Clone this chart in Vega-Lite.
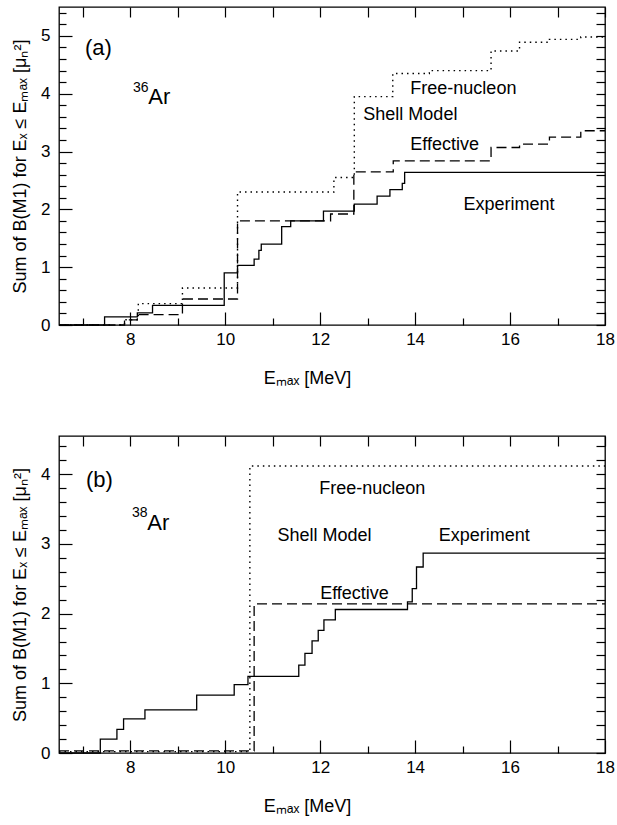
{
  "$schema": "https://vega.github.io/schema/vega-lite/v6.json",
  "padding": {"left": 10, "top": 5, "right": 5, "bottom": 5},
  "config": {
    "font": "Liberation Sans",
    "axis": {"labelFont": "Liberation Sans", "labelFontSize": 17, "labelColor": "black", "titleFont": "Liberation Sans", "titleFontSize": 18, "titleFontWeight": "normal", "titleColor": "black", "grid": false, "tickColor": "black", "tickWidth": 1.2, "domain": false, "labelFlush": false, "labelOverlap": false},
    "view": {"stroke": "black", "strokeWidth": 1.3},
    "text": {"font": "Liberation Sans", "color": "black"}
  },
  "datasets": {
    "steps": [
      {"panel": "a", "series": "Experiment", "E": 6.5, "B": 0},
      {"panel": "a", "series": "Experiment", "E": 7.46, "B": 0.14},
      {"panel": "a", "series": "Experiment", "E": 8.15, "B": 0.21},
      {"panel": "a", "series": "Experiment", "E": 8.47, "B": 0.34},
      {"panel": "a", "series": "Experiment", "E": 9.98, "B": 0.9},
      {"panel": "a", "series": "Experiment", "E": 10.26, "B": 1.03},
      {"panel": "a", "series": "Experiment", "E": 10.61, "B": 1.14},
      {"panel": "a", "series": "Experiment", "E": 10.71, "B": 1.29},
      {"panel": "a", "series": "Experiment", "E": 10.76, "B": 1.4},
      {"panel": "a", "series": "Experiment", "E": 11.19, "B": 1.7},
      {"panel": "a", "series": "Experiment", "E": 11.38, "B": 1.8},
      {"panel": "a", "series": "Experiment", "E": 12.07, "B": 1.97},
      {"panel": "a", "series": "Experiment", "E": 12.72, "B": 2.09},
      {"panel": "a", "series": "Experiment", "E": 13.2, "B": 2.23},
      {"panel": "a", "series": "Experiment", "E": 13.47, "B": 2.34},
      {"panel": "a", "series": "Experiment", "E": 13.73, "B": 2.45},
      {"panel": "a", "series": "Experiment", "E": 13.78, "B": 2.64},
      {"panel": "a", "series": "Experiment", "E": 18, "B": 2.64},
      {"panel": "a", "series": "Effective", "E": 6.5, "B": 0},
      {"panel": "a", "series": "Effective", "E": 7.88, "B": 0.09},
      {"panel": "a", "series": "Effective", "E": 8.15, "B": 0.18},
      {"panel": "a", "series": "Effective", "E": 9.1, "B": 0.45},
      {"panel": "a", "series": "Effective", "E": 10.26, "B": 1.8},
      {"panel": "a", "series": "Effective", "E": 12.22, "B": 1.92},
      {"panel": "a", "series": "Effective", "E": 12.71, "B": 2.65},
      {"panel": "a", "series": "Effective", "E": 13.54, "B": 2.84},
      {"panel": "a", "series": "Effective", "E": 15.6, "B": 3.07},
      {"panel": "a", "series": "Effective", "E": 16.2, "B": 3.13},
      {"panel": "a", "series": "Effective", "E": 16.83, "B": 3.25},
      {"panel": "a", "series": "Effective", "E": 17.49, "B": 3.36},
      {"panel": "a", "series": "Effective", "E": 18, "B": 3.36},
      {"panel": "a", "series": "Free-nucleon", "E": 6.5, "B": 0},
      {"panel": "a", "series": "Free-nucleon", "E": 7.88, "B": 0.09},
      {"panel": "a", "series": "Free-nucleon", "E": 8.17, "B": 0.37},
      {"panel": "a", "series": "Free-nucleon", "E": 9.1, "B": 0.64},
      {"panel": "a", "series": "Free-nucleon", "E": 10.26, "B": 2.3},
      {"panel": "a", "series": "Free-nucleon", "E": 12.29, "B": 2.55},
      {"panel": "a", "series": "Free-nucleon", "E": 12.72, "B": 3.95},
      {"panel": "a", "series": "Free-nucleon", "E": 13.53, "B": 4.35},
      {"panel": "a", "series": "Free-nucleon", "E": 14.3, "B": 4.4},
      {"panel": "a", "series": "Free-nucleon", "E": 15.6, "B": 4.74},
      {"panel": "a", "series": "Free-nucleon", "E": 16.2, "B": 4.89},
      {"panel": "a", "series": "Free-nucleon", "E": 16.83, "B": 4.94},
      {"panel": "a", "series": "Free-nucleon", "E": 17.49, "B": 4.98},
      {"panel": "a", "series": "Free-nucleon", "E": 18, "B": 4.98},
      {"panel": "b", "series": "Experiment", "E": 6.5, "B": 0},
      {"panel": "b", "series": "Experiment", "E": 7.37, "B": 0.2},
      {"panel": "b", "series": "Experiment", "E": 7.72, "B": 0.34},
      {"panel": "b", "series": "Experiment", "E": 7.86, "B": 0.49},
      {"panel": "b", "series": "Experiment", "E": 8.31, "B": 0.62},
      {"panel": "b", "series": "Experiment", "E": 9.4, "B": 0.83},
      {"panel": "b", "series": "Experiment", "E": 10.19, "B": 0.98},
      {"panel": "b", "series": "Experiment", "E": 10.48, "B": 1.1},
      {"panel": "b", "series": "Experiment", "E": 11.55, "B": 1.26},
      {"panel": "b", "series": "Experiment", "E": 11.68, "B": 1.43},
      {"panel": "b", "series": "Experiment", "E": 11.83, "B": 1.61},
      {"panel": "b", "series": "Experiment", "E": 11.96, "B": 1.76},
      {"panel": "b", "series": "Experiment", "E": 12.08, "B": 1.91},
      {"panel": "b", "series": "Experiment", "E": 12.32, "B": 2.06},
      {"panel": "b", "series": "Experiment", "E": 13.84, "B": 2.17},
      {"panel": "b", "series": "Experiment", "E": 13.94, "B": 2.36},
      {"panel": "b", "series": "Experiment", "E": 14.03, "B": 2.67},
      {"panel": "b", "series": "Experiment", "E": 14.17, "B": 2.87},
      {"panel": "b", "series": "Experiment", "E": 18, "B": 2.87},
      {"panel": "b", "series": "Effective", "E": 6.5, "B": 0.03},
      {"panel": "b", "series": "Effective", "E": 10.61, "B": 2.14},
      {"panel": "b", "series": "Effective", "E": 18, "B": 2.14},
      {"panel": "b", "series": "Free-nucleon", "E": 6.5, "B": 0.02},
      {"panel": "b", "series": "Free-nucleon", "E": 10.52, "B": 4.12},
      {"panel": "b", "series": "Free-nucleon", "E": 18, "B": 4.12}
    ]
  },
  "spacing": 46,
  "vconcat": [
    {
      "width": 546,
      "height": 318,
      "resolve": {"scale": {"x": "independent", "y": "independent"}, "axis": {"x": "independent", "y": "independent"}},
      "layer": [
        {
          "data": {"name": "steps"},
          "transform": [{"filter": "datum.panel === 'a' && datum.series === 'Experiment'"}],
          "mark": {"type": "line", "interpolate": "step-after", "color": "black", "strokeWidth": 1.3},
          "encoding": {
            "x": {"field": "E", "type": "quantitative", "scale": {"domain": [6.5, 18], "nice": false, "zero": false}, "axis": {"orient": "bottom", "values": [8, 10, 12, 14, 16, 18], "ticks": true, "tickSize": 13, "offset": -13, "labelPadding": 6, "title": "Eₘₐₓ  [MeV]", "titlePadding": 22, "titleX": 248, "titleAlign": "center"}},
            "y": {"field": "B", "type": "quantitative", "scale": {"domain": [0, 5.5], "nice": false, "zero": false}, "axis": {"orient": "left", "values": [0, 1, 2, 3, 4, 5], "ticks": true, "tickSize": 13, "offset": -13, "labelPadding": 9, "title": "Sum of B(M1) for Eₓ ≤ Eₘₐₓ  [μₙ²]", "titlePadding": 11}}
          }
        },
        {
          "data": {"name": "steps"},
          "transform": [{"filter": "datum.panel === 'a' && datum.series === 'Effective'"}],
          "mark": {"type": "line", "interpolate": "step-after", "color": "black", "strokeWidth": 1.3, "strokeDash": [10, 5]},
          "encoding": {
            "x": {"field": "E", "type": "quantitative", "scale": {"domain": [6.5, 18], "nice": false, "zero": false}, "axis": {"orient": "top", "values": [7, 8, 9, 10, 11, 12, 13, 14, 15, 16, 17, 18], "labels": false, "tickSize": 10, "offset": -10, "title": null}},
            "y": {"field": "B", "type": "quantitative", "scale": {"domain": [0, 5.5], "nice": false, "zero": false}, "axis": {"orient": "right", "values": [0, 0.2, 0.4, 0.6, 0.8, 1, 1.2, 1.4, 1.6, 1.8, 2, 2.2, 2.4, 2.6, 2.8, 3, 3.2, 3.4, 3.6, 3.8, 4, 4.2, 4.4, 4.6, 4.8, 5, 5.2, 5.4], "labels": false, "tickSize": 9, "offset": -9, "title": null}}
          }
        },
        {
          "data": {"name": "steps"},
          "transform": [{"filter": "datum.panel === 'a' && datum.series === 'Free-nucleon'"}],
          "mark": {"type": "line", "interpolate": "step-after", "color": "black", "strokeWidth": 1.4, "strokeDash": [1.5, 4]},
          "encoding": {
            "x": {"field": "E", "type": "quantitative", "scale": {"domain": [6.5, 18], "nice": false, "zero": false}, "axis": {"orient": "bottom", "values": [7, 9, 11, 13, 15, 17], "labels": false, "tickSize": 7, "offset": -7, "title": null}},
            "y": {"field": "B", "type": "quantitative", "scale": {"domain": [0, 5.5], "nice": false, "zero": false}, "axis": {"orient": "left", "values": [0.2, 0.4, 0.6, 0.8, 1.2, 1.4, 1.6, 1.8, 2.2, 2.4, 2.6, 2.8, 3.2, 3.4, 3.6, 3.8, 4.2, 4.4, 4.6, 4.8, 5.2, 5.4], "labels": false, "tickSize": 7, "offset": -7, "title": null}}
          }
        },
        {
          "data": {"values": [{}]},
          "mark": {"type": "text", "align": "left", "baseline": "middle", "fontSize": 18, "text": "Free-nucleon"},
          "encoding": {"x": {"datum": 13.9, "type": "quantitative", "scale": {"domain": [6.5, 18], "nice": false, "zero": false}, "axis": null}, "y": {"datum": 4.08, "type": "quantitative", "scale": {"domain": [0, 5.5], "nice": false, "zero": false}, "axis": null}}
        },
        {
          "data": {"values": [{}]},
          "mark": {"type": "text", "align": "left", "baseline": "middle", "fontSize": 18, "text": "Shell Model"},
          "encoding": {"x": {"datum": 12.91, "type": "quantitative", "scale": {"domain": [6.5, 18], "nice": false, "zero": false}, "axis": null}, "y": {"datum": 3.64, "type": "quantitative", "scale": {"domain": [0, 5.5], "nice": false, "zero": false}, "axis": null}}
        },
        {
          "data": {"values": [{}]},
          "mark": {"type": "text", "align": "left", "baseline": "middle", "fontSize": 18, "text": "Effective"},
          "encoding": {"x": {"datum": 13.9, "type": "quantitative", "scale": {"domain": [6.5, 18], "nice": false, "zero": false}, "axis": null}, "y": {"datum": 3.12, "type": "quantitative", "scale": {"domain": [0, 5.5], "nice": false, "zero": false}, "axis": null}}
        },
        {
          "data": {"values": [{}]},
          "mark": {"type": "text", "align": "left", "baseline": "middle", "fontSize": 18, "text": "Experiment"},
          "encoding": {"x": {"datum": 15.02, "type": "quantitative", "scale": {"domain": [6.5, 18], "nice": false, "zero": false}, "axis": null}, "y": {"datum": 2.07, "type": "quantitative", "scale": {"domain": [0, 5.5], "nice": false, "zero": false}, "axis": null}}
        },
        {
          "data": {"values": [{}]},
          "mark": {"type": "text", "align": "center", "baseline": "middle", "fontSize": 22, "text": "(a)"},
          "encoding": {"x": {"datum": 7.33, "type": "quantitative", "scale": {"domain": [6.5, 18], "nice": false, "zero": false}, "axis": null}, "y": {"datum": 4.79, "type": "quantitative", "scale": {"domain": [0, 5.5], "nice": false, "zero": false}, "axis": null}}
        },
        {
          "data": {"values": [{}]},
          "mark": {"type": "text", "align": "center", "baseline": "middle", "fontSize": 14, "text": "36"},
          "encoding": {"x": {"datum": 8.22, "type": "quantitative", "scale": {"domain": [6.5, 18], "nice": false, "zero": false}, "axis": null}, "y": {"datum": 4.1, "type": "quantitative", "scale": {"domain": [0, 5.5], "nice": false, "zero": false}, "axis": null}}
        },
        {
          "data": {"values": [{}]},
          "mark": {"type": "text", "align": "left", "baseline": "middle", "fontSize": 22, "text": "Ar"},
          "encoding": {"x": {"datum": 8.38, "type": "quantitative", "scale": {"domain": [6.5, 18], "nice": false, "zero": false}, "axis": null}, "y": {"datum": 3.94, "type": "quantitative", "scale": {"domain": [0, 5.5], "nice": false, "zero": false}, "axis": null}}
        }
      ]
    },
    {
      "width": 546,
      "height": 317,
      "resolve": {"scale": {"x": "independent", "y": "independent"}, "axis": {"x": "independent", "y": "independent"}},
      "layer": [
        {
          "data": {"name": "steps"},
          "transform": [{"filter": "datum.panel === 'b' && datum.series === 'Experiment'"}],
          "mark": {"type": "line", "interpolate": "step-after", "color": "black", "strokeWidth": 1.3},
          "encoding": {
            "x": {"field": "E", "type": "quantitative", "scale": {"domain": [6.5, 18], "nice": false, "zero": false}, "axis": {"orient": "bottom", "values": [8, 10, 12, 14, 16, 18], "ticks": true, "tickSize": 13, "offset": -13, "labelPadding": 6, "title": "Eₘₐₓ  [MeV]", "titlePadding": 22, "titleX": 248, "titleAlign": "center"}},
            "y": {"field": "B", "type": "quantitative", "scale": {"domain": [0, 4.55], "nice": false, "zero": false}, "axis": {"orient": "left", "values": [0, 1, 2, 3, 4], "ticks": true, "tickSize": 13, "offset": -13, "labelPadding": 9, "title": "Sum of B(M1) for Eₓ ≤ Eₘₐₓ  [μₙ²]", "titlePadding": 11}}
          }
        },
        {
          "data": {"name": "steps"},
          "transform": [{"filter": "datum.panel === 'b' && datum.series === 'Effective'"}],
          "mark": {"type": "line", "interpolate": "step-after", "color": "black", "strokeWidth": 1.3, "strokeDash": [10, 5]},
          "encoding": {
            "x": {"field": "E", "type": "quantitative", "scale": {"domain": [6.5, 18], "nice": false, "zero": false}, "axis": {"orient": "top", "values": [7, 8, 9, 10, 11, 12, 13, 14, 15, 16, 17, 18], "labels": false, "tickSize": 10, "offset": -10, "title": null}},
            "y": {"field": "B", "type": "quantitative", "scale": {"domain": [0, 4.55], "nice": false, "zero": false}, "axis": {"orient": "right", "values": [0, 0.2, 0.4, 0.6, 0.8, 1, 1.2, 1.4, 1.6, 1.8, 2, 2.2, 2.4, 2.6, 2.8, 3, 3.2, 3.4, 3.6, 3.8, 4, 4.2, 4.4], "labels": false, "tickSize": 9, "offset": -9, "title": null}}
          }
        },
        {
          "data": {"name": "steps"},
          "transform": [{"filter": "datum.panel === 'b' && datum.series === 'Free-nucleon'"}],
          "mark": {"type": "line", "interpolate": "step-after", "color": "black", "strokeWidth": 1.4, "strokeDash": [1.5, 4]},
          "encoding": {
            "x": {"field": "E", "type": "quantitative", "scale": {"domain": [6.5, 18], "nice": false, "zero": false}, "axis": {"orient": "bottom", "values": [7, 9, 11, 13, 15, 17], "labels": false, "tickSize": 7, "offset": -7, "title": null}},
            "y": {"field": "B", "type": "quantitative", "scale": {"domain": [0, 4.55], "nice": false, "zero": false}, "axis": {"orient": "left", "values": [0.2, 0.4, 0.6, 0.8, 1.2, 1.4, 1.6, 1.8, 2.2, 2.4, 2.6, 2.8, 3.2, 3.4, 3.6, 3.8, 4.2, 4.4], "labels": false, "tickSize": 7, "offset": -7, "title": null}}
          }
        },
        {
          "data": {"values": [{}]},
          "mark": {"type": "text", "align": "left", "baseline": "middle", "fontSize": 18, "text": "Free-nucleon"},
          "encoding": {"x": {"datum": 11.98, "type": "quantitative", "scale": {"domain": [6.5, 18], "nice": false, "zero": false}, "axis": null}, "y": {"datum": 3.79, "type": "quantitative", "scale": {"domain": [0, 4.55], "nice": false, "zero": false}, "axis": null}}
        },
        {
          "data": {"values": [{}]},
          "mark": {"type": "text", "align": "left", "baseline": "middle", "fontSize": 18, "text": "Shell Model"},
          "encoding": {"x": {"datum": 11.1, "type": "quantitative", "scale": {"domain": [6.5, 18], "nice": false, "zero": false}, "axis": null}, "y": {"datum": 3.12, "type": "quantitative", "scale": {"domain": [0, 4.55], "nice": false, "zero": false}, "axis": null}}
        },
        {
          "data": {"values": [{}]},
          "mark": {"type": "text", "align": "left", "baseline": "middle", "fontSize": 18, "text": "Experiment"},
          "encoding": {"x": {"datum": 14.5, "type": "quantitative", "scale": {"domain": [6.5, 18], "nice": false, "zero": false}, "axis": null}, "y": {"datum": 3.12, "type": "quantitative", "scale": {"domain": [0, 4.55], "nice": false, "zero": false}, "axis": null}}
        },
        {
          "data": {"values": [{}]},
          "mark": {"type": "text", "align": "left", "baseline": "middle", "fontSize": 18, "text": "Effective"},
          "encoding": {"x": {"datum": 12.0, "type": "quantitative", "scale": {"domain": [6.5, 18], "nice": false, "zero": false}, "axis": null}, "y": {"datum": 2.28, "type": "quantitative", "scale": {"domain": [0, 4.55], "nice": false, "zero": false}, "axis": null}}
        },
        {
          "data": {"values": [{}]},
          "mark": {"type": "text", "align": "center", "baseline": "middle", "fontSize": 22, "text": "(b)"},
          "encoding": {"x": {"datum": 7.35, "type": "quantitative", "scale": {"domain": [6.5, 18], "nice": false, "zero": false}, "axis": null}, "y": {"datum": 3.92, "type": "quantitative", "scale": {"domain": [0, 4.55], "nice": false, "zero": false}, "axis": null}}
        },
        {
          "data": {"values": [{}]},
          "mark": {"type": "text", "align": "center", "baseline": "middle", "fontSize": 14, "text": "38"},
          "encoding": {"x": {"datum": 8.2, "type": "quantitative", "scale": {"domain": [6.5, 18], "nice": false, "zero": false}, "axis": null}, "y": {"datum": 3.44, "type": "quantitative", "scale": {"domain": [0, 4.55], "nice": false, "zero": false}, "axis": null}}
        },
        {
          "data": {"values": [{}]},
          "mark": {"type": "text", "align": "left", "baseline": "middle", "fontSize": 22, "text": "Ar"},
          "encoding": {"x": {"datum": 8.36, "type": "quantitative", "scale": {"domain": [6.5, 18], "nice": false, "zero": false}, "axis": null}, "y": {"datum": 3.3, "type": "quantitative", "scale": {"domain": [0, 4.55], "nice": false, "zero": false}, "axis": null}}
        }
      ]
    }
  ]
}
